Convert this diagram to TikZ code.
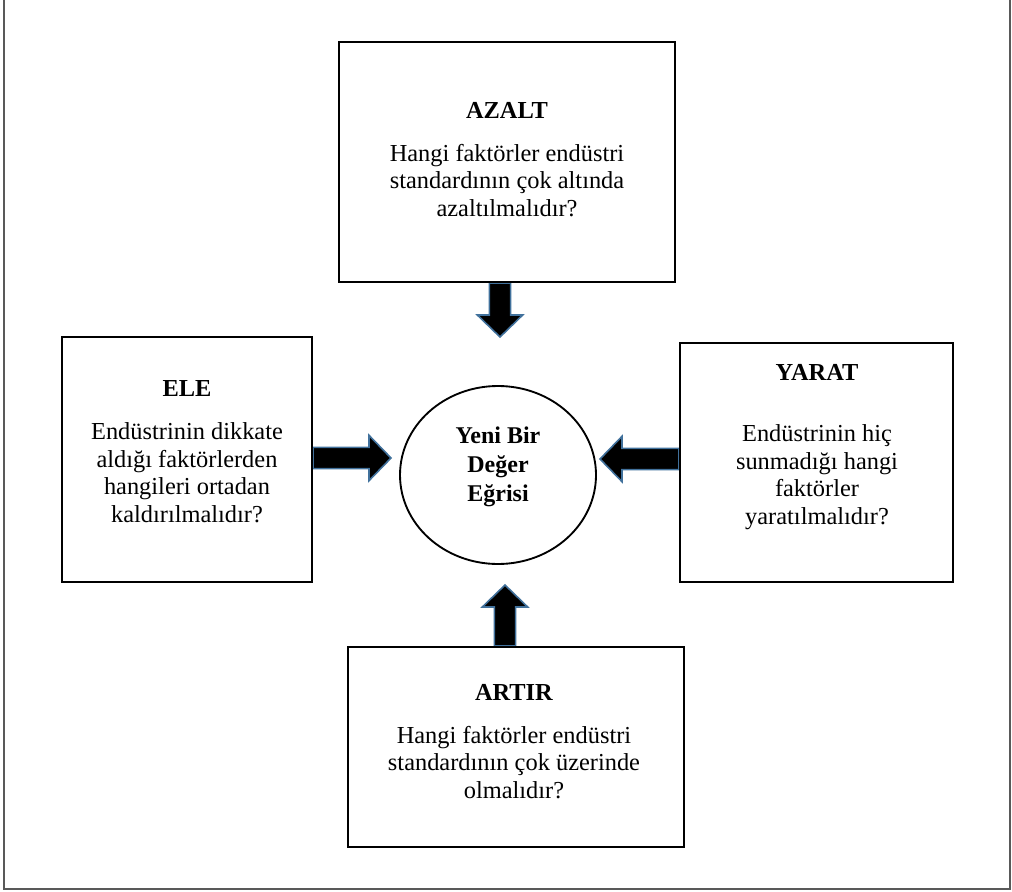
\documentclass[tikz,border=0pt]{standalone}
\usepackage{fontspec}
\setmainfont{Liberation Serif}
\usetikzlibrary{calc,shapes.geometric,backgrounds}

\definecolor{okmavi}{RGB}{65,113,156}

\tikzset{
	kutu/.style={draw, line width=1.6pt, inner sep=0pt},
	yazi/.style={align=center, anchor=base, inner sep=0pt, font=\fontsize{18.3pt}{20.6pt}\selectfont},
	blok/.style={draw=okmavi, fill=black, line width=1.2pt, line join=miter,
		to path={let \p1=(\tikztostart), \p2=(\tikztotarget),
			\n1={atan2(\y2-\y1,\x2-\x1)}, \n2={veclen(\x2-\x1,\y2-\y1)} in
			[shift={(\p1)}, rotate=\n1]
			(0pt,-8pt) -- ({\n2-16.5pt},-8pt) -- ({\n2-16.5pt},-17pt) -- ({\n2*1pt},0pt)
			-- ({\n2-16.5pt},17pt) -- ({\n2-16.5pt},8pt) -- (0pt,8pt) -- cycle}}
}

\begin{document}
\begin{tikzpicture}[x=0.75pt, y=-0.75pt]
		\useasboundingbox (0,0) rectangle (1012,891);
		\draw[black!65, line width=1.5pt] (4,0) -- (4,889) -- (1010,889) -- (1010,0);

		%Kutular
		\node [kutu, minimum width=252pt, minimum height=180pt] (azalt) at (507,162) {};
		\node [kutu, minimum width=187.5pt, minimum height=183.75pt] (ele) at (187,459.5) {};
		\node [kutu, minimum width=204.75pt, minimum height=179.25pt] (yarat) at (816.5,462.5) {};
		\node [kutu, minimum width=252pt, minimum height=150pt] (artir) at (516,747) {};
		\node [draw, ellipse, line width=1.4pt, inner sep=0pt, minimum width=147pt, minimum height=133.5pt] (egri) at (498,475) {};

		%Yazilar (son satirin tabanina gore)
		\node [yazi] (azaltYazi) at (507,216) {\textbf{AZALT}\\[11.6pt] Hangi faktörler endüstri\\ standardının çok altında\\ azaltılmalıdır?};
		\node [yazi] (eleYazi) at (187,522) {\textbf{ELE}\\[11.6pt] Endüstrinin dikkate\\ aldığı faktörlerden\\ hangileri ortadan\\ kaldırılmalıdır?};
		\node [yazi] (yaratYazi) at (817,524) {\textbf{YARAT}\\[25pt] Endüstrinin hiç\\ sunmadığı hangi\\ faktörler\\ yaratılmalıdır?};
		\node [yazi] (artirYazi) at (514,798) {\textbf{ARTIR}\\[11.6pt] Hangi faktörler endüstri\\ standardının çok üzerinde\\ olmalıdır?};
		\node [yazi, font=\bfseries\fontsize{18pt}{21.75pt}\selectfont] (egriYazi) at (498,501) {Yeni Bir\\ Değer\\ Eğrisi};

		%Oklar
		\coordinate (ustUc) at (500,337);
		\coordinate (solUc) at (391,458);
		\coordinate (sagUc) at (600,459);
		\coordinate (altUc) at (505,585);
		\begin{pgfonlayer}{background}
		\draw[blok] (azalt.south -| ustUc) to (ustUc);
		\draw[blok] (ele.east |- solUc) to (solUc);
		\draw[blok] (yarat.west |- sagUc) to (sagUc);
		\draw[blok] (artir.north -| altUc) to (altUc);
		\end{pgfonlayer}
\end{tikzpicture}
\end{document}
